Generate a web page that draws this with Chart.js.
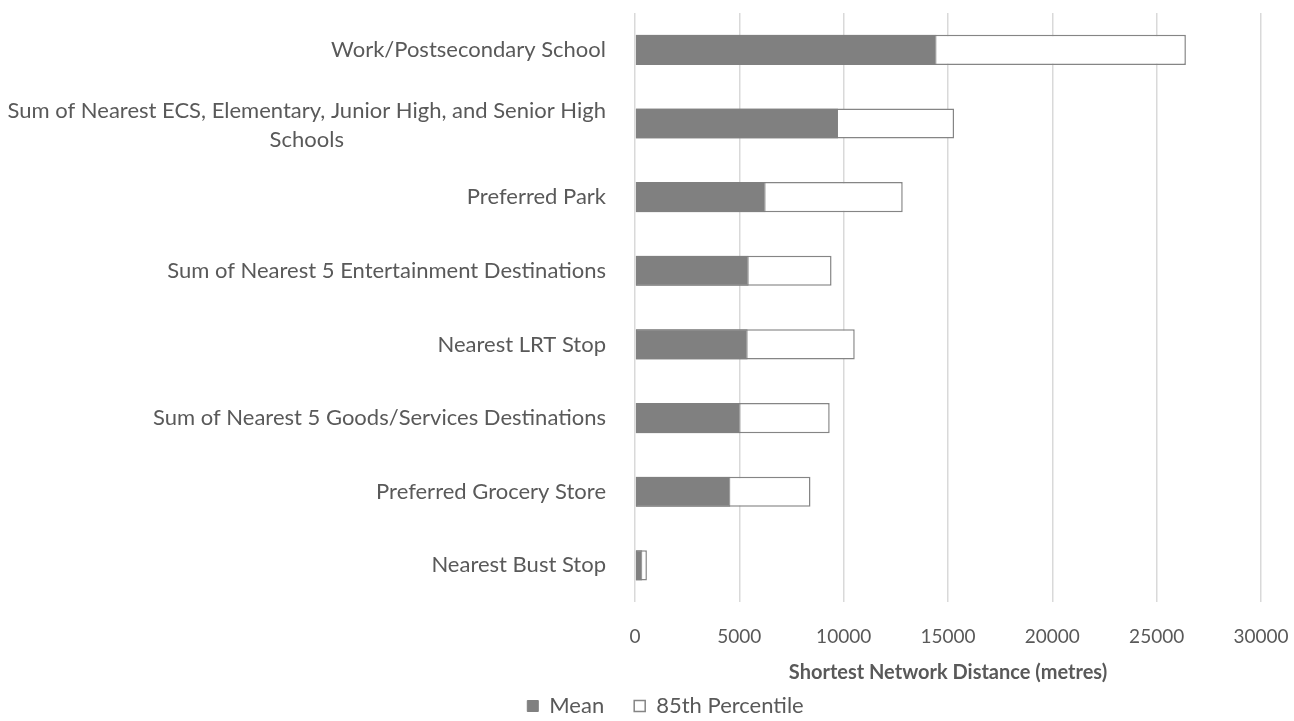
<!DOCTYPE html>
<html>
<head>
<meta charset="utf-8">
<script src="https://cdn.jsdelivr.net/npm/chart.js@4"></script>
<style>
  html, body { margin: 0; padding: 0; background: #fff; }
  #wrap { width: 1294px; height: 721px; }
</style>
</head>
<body>
<div id="wrap"><canvas id="myChart" width="1294" height="721"></canvas></div>
<script>
// categories, top to bottom (second entry wraps onto two lines)
const categories = [
  ['Work/Postsecondary School'],
  ['Sum of Nearest ECS, Elementary, Junior High, and Senior High', 'Schools'],
  ['Preferred Park'],
  ['Sum of Nearest 5 Entertainment Destinations'],
  ['Nearest LRT Stop'],
  ['Sum of Nearest 5 Goods/Services Destinations'],
  ['Preferred Grocery Store'],
  ['Nearest Bust Stop']
];
const meanDist = [14450, 9730, 6260, 5450, 5400, 5060, 4570, 350];
const p85Dist = [26400, 15290, 12830, 9420, 10530, 9330, 8410, 570];
const xTicks = [0, 5000, 10000, 15000, 20000, 25000, 30000];

const textColor = '#595959';
const fontFam = 'Lato, "Open Sans", sans-serif';
Chart.defaults.font.family = fontFam;
Chart.defaults.color = textColor;

// draw the category labels ourselves so the wrapped line centres under the first one
const catLabels = {
  id: 'catLabels',
  afterDraw(chart) {
    const ctx = chart.ctx;
    const yScale = chart.scales.y;
    const right = chart.chartArea.left - 29;
    ctx.save();
    ctx.font = '22px ' + fontFam;
    ctx.fillStyle = textColor;
    ctx.textBaseline = 'middle';
    categories.forEach(function(lines, i) {
      const y = yScale.getPixelForValue(i);
      if (lines.length == 1) {
        ctx.textAlign = 'right';
        ctx.fillText(lines[0], right, y);
      } else {
        const w = ctx.measureText(lines[0]).width;
        ctx.textAlign = 'right';
        ctx.fillText(lines[0], right, y - 13);
        ctx.textAlign = 'center';
        ctx.fillText(lines[1], right - w / 2, y + 16);
      }
    });
    ctx.restore();
  }
};

// legend sits right of the canvas centre and a bit lower in the original
const shiftLegend = {
  id: 'shiftLegend',
  afterLayout(chart) {
    const lg = chart.legend;
    lg.left += 35; lg.right += 35;
    lg.top -= 18; lg.bottom -= 18;
  }
};

const ctx = document.getElementById('myChart');
new Chart(ctx, {
  type: 'bar',
  data: {
    labels: categories.map(l => l.join(' ')),
    datasets: [
      {
        label: 'Mean',
        data: meanDist,
        backgroundColor: '#808080',
        borderColor: '#808080',
        borderWidth: 1,
        borderSkipped: false
      },
      {
        label: '85th Percentile',
        data: p85Dist,
        backgroundColor: '#ffffff',
        borderColor: '#858585',
        borderWidth: 1.5,
        borderSkipped: false
      }
    ]
  },
  options: {
    indexAxis: 'y',
    responsive: false,
    animation: false,
    devicePixelRatio: 1,
    categoryPercentage: 0.41,
    barPercentage: 1,
    layout: { padding: { top: 13, right: 33, left: 0, bottom: -24 } },
    scales: {
      y: {
        stacked: true,
        grid: { display: false },
        border: { display: false },
        ticks: { display: false },
        afterFit(scale) { scale.width = 635; }
      },
      x: {
        min: 0,
        max: 30000,
        afterBuildTicks(scale) { scale.ticks = xTicks.map(v => ({ value: v })); },
        afterFit(scale) { scale.paddingRight = 0; },
        grid: { color: '#d9d9d9', lineWidth: 1.5, drawTicks: false },
        border: { display: false },
        ticks: {
          padding: 23,
          font: { size: 19 },
          color: textColor,
          callback: v => String(v)
        },
        title: {
          display: true,
          text: 'Shortest Network Distance (metres)',
          font: { size: 20, weight: 'bold' },
          color: textColor,
          padding: { top: -10, bottom: -2 }
        }
      }
    },
    plugins: {
      legend: {
        position: 'bottom',
        labels: {
          font: { size: 22 },
          color: textColor,
          boxWidth: 11,
          boxHeight: 11,
          padding: 30
        }
      },
      tooltip: { enabled: false }
    }
  },
  plugins: [catLabels, shiftLegend]
});
</script>
</body>
</html>
